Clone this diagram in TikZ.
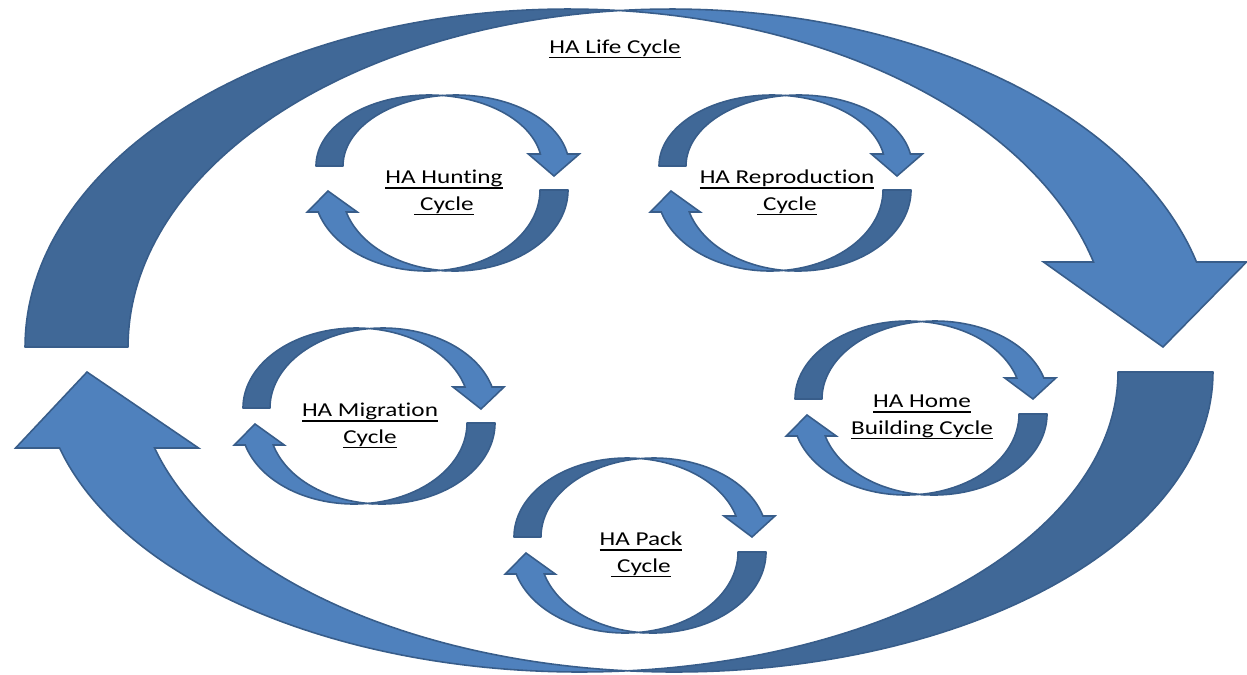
\documentclass[tikz,border=0pt]{standalone}
\usepackage{fontspec}
\setmainfont{Carlito}[Ligatures=NoCommon]
\definecolor{darkb}{RGB}{64,104,151}
\definecolor{lightb}{RGB}{79,129,189}
\definecolor{edgeb}{RGB}{56,93,138}
\newcommand{\uln}[1]{\setbox0\hbox{#1}\rlap{\rule[-2.6pt]{\wd0}{0.9pt}}\box0}
\newcommand{\lbltext}[1]{\scalebox{1.28}[1]{\begin{tabular}{@{}c@{}}#1\end{tabular}}}
% #1 sign, #2 outer tail x, #3 inner tail x, #4 base y, #5 x radius, #6 y radius, #7 head height, #8 barb overhang, #9 tip
\newcommand{\carrow}[9]{%
  \pgfmathsetmacro\cA{#2+(#1)*(#5)}%
  \pgfmathsetmacro\cB{#3+(#1)*(#5)}%
  \pgfmathsetmacro\rxs{(#1)*(#5)}%
  \pgfmathsetmacro\rys{(#1)*(#6)}%
  \pgfmathsetmacro\tA{acos(abs(#3-#2)/(2*(#5)))}%
  \pgfmathsetmacro\tB{180-\tA}%
  \pgfmathsetmacro\tN{asin((#7)/(#6))}%
  \pgfmathsetmacro\yn{#4-(#1)*(#7)}%
  \pgfmathsetmacro\xAb{\cA+(\rxs)*cos(\tN)-(#1)*(#8)}%
  \pgfmathsetmacro\xBb{\cB+(\rxs)*cos(\tN)+(#1)*(#8)}%
  \filldraw[backpart] plot[domain=180:\tA, samples=70, variable=\q] ({\cA+(\rxs)*cos(\q)},{#4-(\rys)*sin(\q)})
     -- plot[domain=\tB:180, samples=70, variable=\q] ({\cB+(\rxs)*cos(\q)},{#4-(\rys)*sin(\q)}) -- cycle;
  \filldraw[frontpart] plot[domain=\tB:\tN, samples=70, variable=\q] ({\cB+(\rxs)*cos(\q)},{#4-(\rys)*sin(\q)})
     -- (\xBb,\yn) -- #9 -- (\xAb,\yn)
     -- plot[domain=\tN:\tA, samples=70, variable=\q] ({\cA+(\rxs)*cos(\q)},{#4-(\rys)*sin(\q)}) -- cycle;
}
% #1 dx, #2 dy, #3 top tail y, #4 top tip y, #5 top of upper arrow
\newcommand{\smallcycle}[5]{%
  \begin{scope}[shift={(#1,#2)}]
    \pgfmathsetmacro\hh{#3-#5}%
    \pgfmathsetmacro\aa{#3-154}%
    \carrow{1}{316}{343}{#3}{113}{\hh}{\aa}{12}{(554,#4)}
    \carrow{-1}{568}{540}{190}{113}{81}{22}{11}{(328,191)}
  \end{scope}
}
\tikzset{
  backpart/.style={fill=darkb, draw=edgeb, line width=0.9pt, line join=round},
  frontpart/.style={fill=lightb, draw=edgeb, line width=0.9pt, line join=miter},
  lbl/.style={inner sep=0pt, font=\fontsize{11.2}{15.3}\selectfont, text=black}
}
\begin{document}
\begin{tikzpicture}[x=0.02cm, y=-0.02cm]
\useasboundingbox (0,0) rectangle (1247,674);
% big life cycle arrows
\carrow{1}{25}{128}{347}{543}{338}{85}{50}{(1163,347)}
\carrow{-1}{1213}{1118}{372}{538}{300}{76}{44}{(87,372)}
% small cycles
\smallcycle{0}{0}{166}{176}{95}
\smallcycle{343}{0}{166}{176}{95}
\smallcycle{-73}{233}{175}{176}{95}
\smallcycle{479}{224}{175}{175}{97}
\smallcycle{198}{362}{175}{175}{96}
% labels
\node[lbl] (life) at (615,48.5) {\lbltext{\uln{HA Life Cycle}}};
\node[lbl] (hunt) at (444,192) {\lbltext{\uln{HA Hunting}\\\uln{\ Cycle}}};
\node[lbl] (repro) at (787,192) {\lbltext{\uln{HA Reproduction}\\\uln{\ Cycle}}};
\node[lbl] (migr) at (370,425) {\lbltext{\uln{HA Migration}\\\uln{Cycle}}};
\node[lbl] (home) at (922,416) {\lbltext{\uln{HA Home}\\\uln{Building Cycle}}};
\node[lbl] (pack) at (641,554) {\lbltext{\uln{HA Pack}\\\uln{\ Cycle}}};
\end{tikzpicture}
\end{document}
